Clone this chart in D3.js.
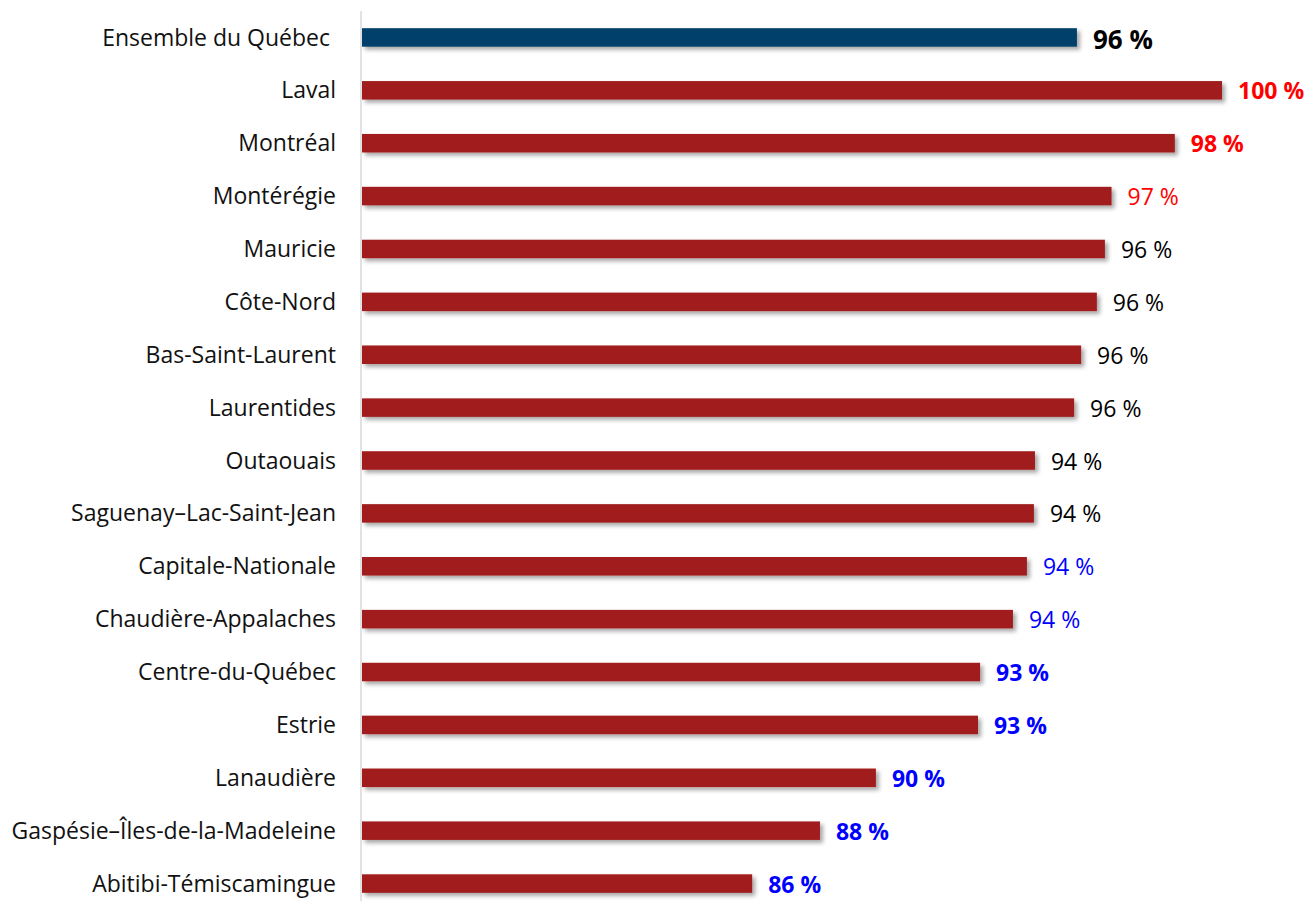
<!DOCTYPE html>
<html>
<head>
<meta charset="utf-8">
<script src="https://cdn.jsdelivr.net/npm/d3@7"></script>
<style>
  body { margin: 0; background: #fff; }
  svg { display: block; font-family: "Segoe UI", "Open Sans", sans-serif; }
  .tick text { white-space: pre; }
</style>
</head>
<body>
<div id="chart"></div>
<script>
// regions, sorted as in the source
var categories = ['Ensemble du Québec ', 'Laval', 'Montréal', 'Montérégie', 'Mauricie', 'Côte-Nord',
  'Bas-Saint-Laurent', 'Laurentides', 'Outaouais', 'Saguenay–Lac-Saint-Jean', 'Capitale-Nationale',
  'Chaudière-Appalaches', 'Centre-du-Québec', 'Estrie', 'Lanaudière',
  'Gaspésie–Îles-de-la-Madeleine', 'Abitibi-Témiscamingue'];
var values = [95.65, 99.8, 98.45, 96.64, 96.45, 96.22, 95.77, 95.57, 94.45, 94.42, 94.22,
  93.82, 92.88, 92.82, 89.9, 88.3, 86.36];
// comparison with the whole province: ref, ++, +, 0, -, --
var signif = ['ref', '++', '++', '+', '0', '0', '0', '0', '0', '0', '-', '-', '--', '--', '--', '--', '--'];

var width = 1309, height = 901;

var svg = d3.select('#chart').append('svg').attr('width', width).attr('height', height);

var defs = svg.append('defs');
var f = defs.append('filter').attr('id', 'shadow')
  .attr('x', '-5%').attr('y', '-50%').attr('width', '110%').attr('height', '250%');
f.append('feDropShadow').attr('dx', 3).attr('dy', 3).attr('stdDeviation', 2)
  .attr('flood-color', '#000').attr('flood-opacity', 0.35);

var x = d3.scaleLinear().domain([75.2, 99.8]).range([362, 1222]);
var y = d3.scaleBand().domain(categories).range([11, 910]).paddingInner(0.65).paddingOuter(0.325);

var labelColor = { 'ref': '#000', '++': '#ff0000', '+': '#ff0000', '0': '#000', '-': '#0000ff', '--': '#0000ff' };
var labelWeight = { 'ref': 'bold', '++': 'bold', '+': 'normal', '0': 'normal', '-': 'normal', '--': 'bold' };

var data = categories.map(function(c, i) { return { cat: c, v: values[i], s: signif[i] }; });

svg.selectAll('rect.bar')
  .data(data)
  .enter().append('rect')
    .attr('class', 'bar')
    .attr('x', x.range()[0])
    .attr('y', function(d) { return y(d.cat); })
    .attr('width', function(d) { return x(d.v) - x.range()[0]; })
    .attr('height', y.bandwidth())
    .attr('fill', function(d) { return d.s === 'ref' ? '#00416B' : '#A11C1C'; })
    .attr('filter', 'url(#shadow)');

// category axis
var yAxis = d3.axisLeft(y).tickSize(0).tickPadding(25);
var gy = svg.append('g').attr('transform', 'translate(361,0)').call(yAxis);
gy.select('.domain').remove();
gy.append('line').attr('x1', 0).attr('x2', 0).attr('y1', 11).attr('y2', height)
  .attr('stroke', '#d9d9d9').attr('stroke-width', 1.5);
gy.selectAll('.tick text')
  .attr('font-size', 23)
  .attr('font-family', '"Segoe UI", "Open Sans", sans-serif')
  .attr('fill', '#111')
  .attr('dy', '0.35em');

svg.selectAll('text.val')
  .data(data)
  .enter().append('text')
    .attr('class', 'val')
    .attr('x', function(d) { return x(d.v) + 16; })
    .attr('y', function(d) { return y(d.cat) + y.bandwidth() / 2 + (d.s === 'ref' ? 2 : 1); })
    .attr('dy', '0.35em')
    .attr('font-size', function(d) { return d.s === 'ref' ? 26 : 23; })
    .attr('font-weight', function(d) { return labelWeight[d.s]; })
    .attr('fill', function(d) { return labelColor[d.s]; })
    .text(function(d) { return Math.round(d.v) + ' %'; });
</script>
</body>
</html>
